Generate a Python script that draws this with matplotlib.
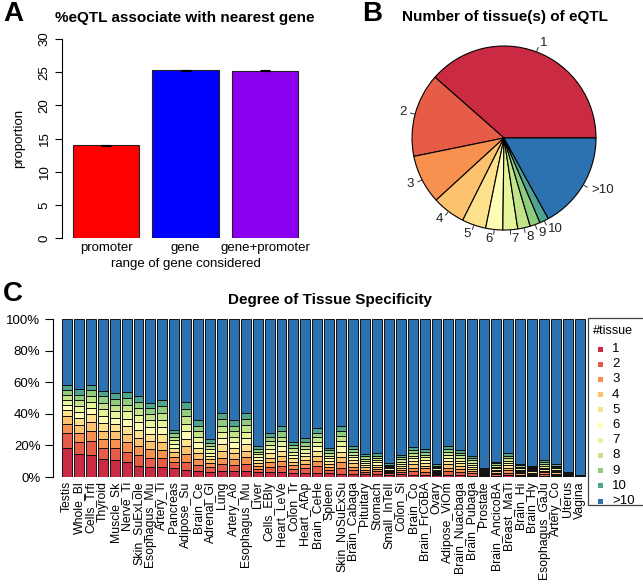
import matplotlib
matplotlib.use("Agg")
import matplotlib.pyplot as plt
from matplotlib.patches import Rectangle
import numpy as np

plt.rcParams['font.family'] = ['Liberation Sans', 'DejaVu Sans']

W, H = 643, 585

# ---- panel A data
gene_range = ["promoter", "gene", "gene+promoter"]
proportion = [14.0, 25.3, 25.2]
proportion_err = [0.08, 0.08, 0.08]
range_cols = ["#FF0000", "#0000FF", "#8A00EE"]

# ---- panel B data
n_tissue = ["1", "2", "3", "4", "5", "6", "7", "8", "9", "10", ">10"]
pie_share = [38.5, 14.7, 8.6, 5.8, 4.2, 3.0, 2.6, 2.2, 1.8, 1.6, 17.0]
tissue_cols = ["#CB2A43", "#E65C47", "#F8904F", "#FDC26D", "#FEE18C", "#FFFCB4",
               "#E6F59A", "#C2E38A", "#8FCC80", "#4EA48C", "#2C72B1"]

# ---- panel C data (% of eQTLs shared by n tissues; >10 is the rest)
tissues = ["Testis", "Whole_Bl", "Cells_Trfi", "Thyroid", "Muscle_Sk", "Nerve_Ti",
           "Skin_SuExLole", "Esophagus_Mu", "Artery_Ti", "Pancreas", "Adipose_Su",
           "Brain_Ce", "Adrenal_Gl", "Lung", "Artery_Ao", "Esophagus_Mu", "Liver",
           "Cells_EBly", "Heart_LeVe", "Colon_Tr", "Heart_AtAp", "Brain_CeHe", "Spleen",
           "Skin_NoSuExSu", "Brain_Cabaga", "Pituitary", "Stomach", "Small_InTeIl",
           "Colon_Si", "Brain_Co", "Brain_FrCoBA", "Ovary", "Adipose_ViOm",
           "Brain_Nuacbaga", "Brain_Pubaga", "Prostate", "Brain_AncicoBA", "Breast_MaTi",
           "Brain_Hi", "Brain_Hy", "Esophagus_GaJu", "Artery_Co", "Uterus", "Vagina"]
n1 = [18.1, 14.3, 13.9, 11.2, 10.8, 9.3, 7.2, 6.5, 6.1, 5.5, 4.4, 3.8, 3.4, 3.6, 3.5, 3.7, 3.0, 3.3, 3.2, 2.8,
      2.6, 2.4, 2.6, 2.2, 1.8, 1.6, 1.9, 1.4, 1.6, 1.2, 1.1, 1.0, 1.5, 1.0, 0.9, 0.8, 0.7, 1.1, 0.6, 0.6,
      0.8, 0.6, 0.3, 0.1]
n2 = [9.5, 8.1, 9.0, 7.0, 7.5, 6.8, 6.5, 5.8, 5.8, 3.8, 5.0, 3.8, 2.8, 4.4, 3.9, 4.5, 2.2, 3.2, 3.5, 2.5,
      2.9, 4.4, 2.1, 3.6, 2.6, 1.6, 1.6, 0.9, 1.5, 2.6, 2.3, 0.8, 2.4, 2.2, 1.6, 0.6, 1.1, 1.7, 0.9, 0.8,
      1.1, 0.8, 0.3, 0.1]
n3 = [5.9, 5.6, 6.4, 5.8, 5.5, 5.8, 5.8, 5.3, 5.4, 3.3, 5.0, 3.7, 2.5, 4.3, 3.8, 4.3, 2.0, 2.9, 3.3, 2.3,
      2.6, 3.6, 1.9, 3.6, 2.2, 1.5, 1.5, 0.8, 1.4, 2.2, 2.0, 0.7, 2.1, 1.9, 1.4, 0.5, 1.0, 1.6, 0.8, 0.7,
      1.0, 0.8, 0.3, 0.1]
n4 = [5.1, 5.0, 5.5, 5.3, 5.0, 5.4, 5.4, 5.0, 5.1, 3.0, 5.0, 3.7, 2.4, 4.2, 3.7, 4.2, 1.9, 2.8, 3.2, 2.2,
      2.5, 3.2, 1.8, 3.4, 2.0, 1.4, 1.4, 0.8, 1.3, 2.0, 1.8, 0.7, 2.0, 1.8, 1.3, 0.5, 0.9, 1.5, 0.8, 0.7,
      1.0, 0.8, 0.3, 0.1]
n5 = [3.8, 4.4, 4.8, 4.9, 4.6, 5.0, 5.1, 4.7, 4.9, 2.8, 4.9, 3.6, 2.2, 4.1, 3.6, 4.1, 1.8, 2.7, 3.1, 2.1,
      2.4, 3.0, 1.7, 3.3, 1.9, 1.4, 1.4, 0.8, 1.3, 1.9, 1.8, 0.7, 1.9, 1.7, 1.3, 0.5, 0.9, 1.5, 0.8, 0.7,
      1.0, 0.8, 0.3, 0.1]
n6 = [3.4, 4.0, 4.2, 4.6, 4.2, 4.7, 4.8, 4.4, 4.6, 2.6, 4.8, 3.5, 2.2, 4.0, 3.5, 4.0, 1.8, 2.6, 3.1, 2.1,
      2.3, 2.9, 1.7, 3.3, 1.9, 1.4, 1.4, 0.8, 1.3, 1.9, 1.7, 0.7, 1.9, 1.7, 1.3, 0.5, 0.9, 1.5, 0.8, 0.7,
      1.1, 0.8, 0.3, 0.1]
n7 = [3.2, 3.6, 3.9, 4.3, 4.0, 4.5, 4.5, 4.1, 4.4, 2.4, 4.7, 3.5, 2.1, 4.0, 3.5, 3.9, 1.7, 2.6, 3.1, 2.1,
      2.3, 2.9, 1.7, 3.3, 1.8, 1.4, 1.4, 0.8, 1.3, 1.8, 1.7, 0.8, 1.9, 1.7, 1.3, 0.5, 1.0, 1.5, 0.9, 0.7,
      1.1, 0.8, 0.3, 0.1]
n8 = [3.0, 3.5, 3.7, 4.0, 3.9, 4.3, 4.3, 3.9, 4.3, 2.2, 4.7, 3.5, 2.1, 3.9, 3.5, 3.9, 1.7, 2.6, 3.1, 2.1,
      2.3, 2.8, 1.7, 3.2, 1.9, 1.4, 1.4, 0.8, 1.4, 1.9, 1.7, 0.8, 2.0, 1.7, 1.4, 0.6, 1.0, 1.6, 0.9, 0.7,
      1.2, 0.8, 0.3, 0.2]
n9 = [2.8, 3.3, 3.5, 3.9, 3.7, 4.1, 4.0, 3.7, 4.1, 2.1, 4.6, 3.4, 2.0, 3.9, 3.5, 3.8, 1.6, 2.6, 3.2, 2.1,
      2.3, 2.8, 1.7, 3.3, 1.8, 1.4, 1.5, 0.7, 1.4, 1.8, 1.8, 0.9, 2.0, 1.7, 1.5, 0.7, 1.1, 1.6, 0.9, 0.8,
      1.2, 0.9, 0.3, 0.2]
n10 = [3.4, 3.7, 3.3, 3.6, 3.8, 4.1, 3.9, 3.6, 4.0, 2.0, 4.6, 3.5, 2.1, 3.9, 3.5, 3.9, 1.7, 2.7, 3.2, 2.1,
       2.3, 2.8, 1.7, 3.3, 1.9, 1.5, 1.5, 0.8, 1.4, 1.9, 1.8, 0.9, 2.1, 1.7, 1.5, 0.7, 1.1, 1.6, 1.0, 0.8,
       1.3, 0.9, 0.3, 0.2]


def px_axes(fig, x0, y0, x1, y1):
    # pixel box, origin top-left
    return fig.add_axes([x0 / W, 1 - y1 / H, (x1 - x0) / W, (y1 - y0) / H])


fig = plt.figure(figsize=(W / 100, H / 100), dpi=100)
fig.patch.set_facecolor("white")

# ================= A
axA = px_axes(fig, 61.75, 39, 309.3, 238)
xa = 0.7 + 1.2 * np.arange(len(gene_range))
axA.bar(xa, proportion, width=1.0, color=range_cols, edgecolor="#222222", linewidth=0.8)
axA.errorbar(xa, proportion, yerr=proportion_err, fmt="none", ecolor="black",
             elinewidth=0.8, capsize=3.5, capthick=0.8)
axA.set_xlim(0.03, 3.77)
axA.set_ylim(0, 30)
for s in ["top", "right", "bottom"]:
    axA.spines[s].set_visible(False)
axA.spines["left"].set_bounds(0, 30)
axA.spines["left"].set_linewidth(0.8)
axA.set_yticks(np.arange(0, 31, 5))
axA.tick_params(axis="y", length=5, width=0.8, pad=3, labelsize=9.5)
for t in axA.get_yticklabels():
    t.set_rotation(90)
    t.set_va("center")
axA.set_xticks(xa)
axA.set_xticklabels(gene_range, fontsize=9.5)
axA.tick_params(axis="x", length=0, pad=3)
axA.set_ylabel("proportion", fontsize=9.5, labelpad=10)
axA.set_xlabel("range of gene considered", fontsize=9.5, labelpad=3)
fig.text(185 / W, 1 - 18 / H, "%eQTL associate with nearest gene", ha="center", va="center",
         fontsize=11, fontweight="bold")
fig.text(3 / W, 1 - 14 / H, "A", ha="left", va="center", fontsize=20, fontweight="bold")

# ================= B
r = 92
cx, cy = 504, 138
axB = px_axes(fig, cx - 1.3 * r, cy - 1.3 * r, cx + 1.3 * r, cy + 1.3 * r)
wedges, _ = axB.pie(pie_share, colors=tissue_cols, startangle=0, counterclock=True,
                    wedgeprops=dict(edgecolor="black", linewidth=0.8))
axB.set_xlim(-1.3, 1.3)
axB.set_ylim(-1.3, 1.3)
axB.axis("off")
for w, lab in zip(wedges, n_tissue):
    a = np.deg2rad((w.theta1 + w.theta2) / 2)
    ca, sa = np.cos(a), np.sin(a)
    axB.plot([ca, 1.05 * ca], [sa, 1.05 * sa], color="#333333", lw=0.7, clip_on=False)
    axB.text(1.1 * ca, 1.1 * sa, lab, ha="right" if ca < 0 else "left", va="center",
             fontsize=9.5, color="#222222", clip_on=False)
fig.text(505 / W, 1 - 17 / H, "Number of tissue(s) of eQTL", ha="center", va="center",
         fontsize=11, fontweight="bold")
fig.text(362 / W, 1 - 14 / H, "B", ha="left", va="center", fontsize=20, fontweight="bold")

# ================= C
axC = px_axes(fig, 53, 319, 586.7, 477)
shares = np.array([n1, n2, n3, n4, n5, n6, n7, n8, n9, n10]) / 100.0
rest = 1.0 - shares.sum(axis=0)
stack = np.vstack([shares, rest])
xc = np.arange(len(tissues))
bottom = np.zeros(len(tissues))
for k in range(stack.shape[0]):
    axC.bar(xc, stack[k], width=1 / 1.2, bottom=bottom, color=tissue_cols[k],
            edgecolor="#111111", linewidth=0.7)
    bottom += stack[k]
axC.set_xlim(-1.17, len(tissues) - 1 + 0.6)
axC.set_ylim(0, 1)
for s in ["top", "right", "bottom"]:
    axC.spines[s].set_visible(False)
axC.spines["left"].set_bounds(0, 1)
axC.spines["left"].set_linewidth(0.8)
axC.set_yticks(np.arange(0, 1.01, 0.2))
axC.set_yticklabels([f"{int(round(v * 100))}%" for v in np.arange(0, 1.01, 0.2)], fontsize=9.5)
axC.tick_params(axis="y", length=6, width=0.8, pad=3)
axC.set_xticks(xc)
axC.set_xticklabels(tissues, rotation=90, fontsize=8.8)
axC.tick_params(axis="x", length=0, pad=3)
fig.text(330 / W, 1 - 300 / H, "Degree of Tissue Specificity", ha="center", va="center",
         fontsize=11, fontweight="bold")
fig.text(3 / W, 1 - 294 / H, "C", ha="left", va="center", fontsize=20, fontweight="bold")

# legend
fig.add_artist(Rectangle((588 / W, 1 - 505 / H), 60 / W, 187 / H, transform=fig.transFigure,
                         facecolor="white", edgecolor="#444444", linewidth=0.9))
fig.text(613 / W, 1 - 331 / H, "#tissue", ha="center", va="center", fontsize=9)
for i, (lab, c) in enumerate(zip(n_tissue, tissue_cols)):
    yy = 1 - (349 + i * 15.2) / H
    fig.add_artist(Rectangle((598 / W, yy - 2.5 / H), 5 / W, 5 / H, transform=fig.transFigure,
                             facecolor=c, edgecolor="none"))
    fig.text(612 / W, yy, lab, ha="left", va="center", fontsize=9.5)

fig.savefig("out.png", dpi=100, facecolor="white")
